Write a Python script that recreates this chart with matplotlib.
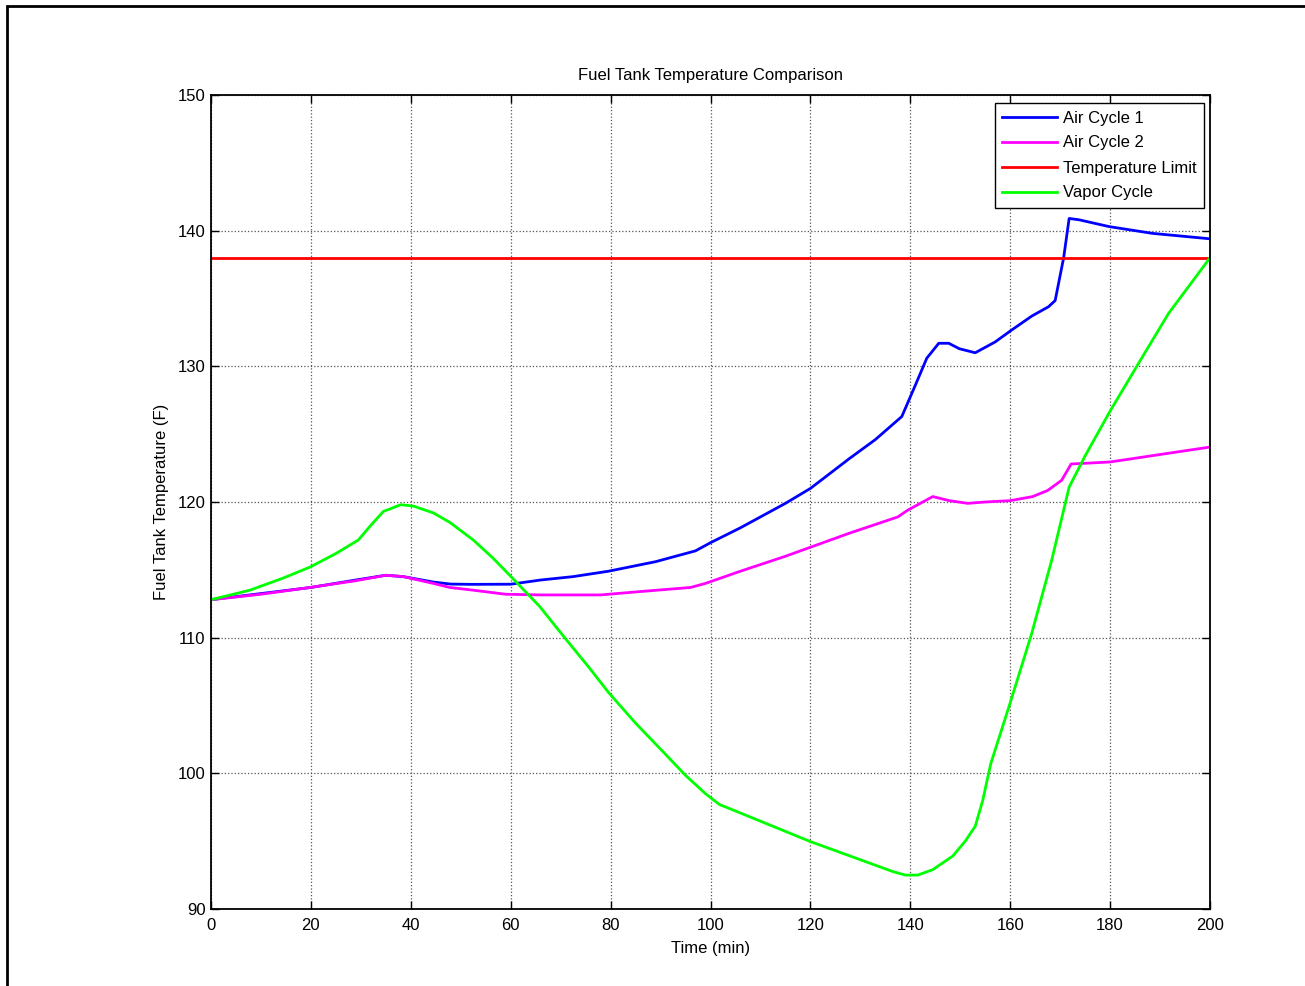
import numpy as np
import matplotlib
matplotlib.use('Agg')
import matplotlib.pyplot as plt
from matplotlib.patches import Rectangle

# values (time in min, temperature in F)
t_air1 = [0, 10, 20, 29, 35, 38.5, 44.5, 48, 52, 60, 66, 72.5, 79.6, 89, 97, 100,
          106, 115, 120, 127.8, 133, 138.3, 141, 143.3, 145.7, 147.7, 149.8, 153,
          157, 160, 164.3, 167.7, 169, 170.7, 171.8, 173.8, 179.8, 188.5, 200]
air1 = [112.8, 113.25, 113.7, 114.25, 114.6, 114.5, 114.1, 113.95, 113.93, 113.94,
        114.25, 114.5, 114.9, 115.6, 116.4, 117.0, 118.1, 119.9, 121.0, 123.2, 124.6,
        126.3, 128.6, 130.6, 131.7, 131.7, 131.3, 131.0, 131.8, 132.6, 133.7, 134.4,
        134.85, 138.0, 140.9, 140.8, 140.3, 139.8, 139.4]

t_air2 = [0, 10, 19.8, 29, 35, 38.5, 44.5, 47.8, 52.5, 59, 66, 78, 86, 96, 99, 106,
          115, 127.8, 137.5, 139.5, 144.5, 147.8, 151.5, 155, 160, 164.5, 167.5,
          170.3, 172.2, 180, 200]
air2 = [112.8, 113.2, 113.7, 114.2, 114.6, 114.5, 114.0, 113.7, 113.5, 113.2, 113.15,
        113.15, 113.4, 113.7, 114.0, 114.9, 116.0, 117.7, 118.9, 119.4, 120.4, 120.1,
        119.9, 120.0, 120.1, 120.4, 120.85, 121.6, 122.8, 122.95, 124.05]

t_limit = [0, 200]
limit = [138, 138]

t_vapor = [0, 7.8, 14.5, 19.8, 25, 29.5, 31.8, 34.5, 38, 40.5, 44.5, 47.8, 52.5,
           56.5, 59.8, 65.8, 70.8, 75.8, 79.5, 85, 91, 95, 99, 101.8, 104.5, 120,
           136.5, 139, 141.5, 144.5, 148.5, 151, 153, 154.5, 156.1, 160, 164.3, 168.3,
           171.8, 175, 180, 185.5, 191.7, 200]
vapor = [112.8, 113.5, 114.4, 115.2, 116.2, 117.2, 118.2, 119.3, 119.8, 119.7, 119.2,
         118.5, 117.2, 115.85, 114.6, 112.3, 110.0, 107.75, 106.0, 103.7, 101.4, 99.85,
         98.5, 97.7, 97.3, 94.97, 92.76, 92.5, 92.5, 92.9, 93.9, 95.0, 96.1, 98.0,
         100.7, 105.2, 110.3, 115.7, 121.1, 123.4, 126.7, 130.1, 133.9, 138.0]

plt.rcParams['font.family'] = ['Liberation Sans', 'DejaVu Sans']

W, H = 1305, 986
fig = plt.figure(figsize=(W/100, H/100), dpi=100)
ax = fig.add_axes([211/W, 1-909/H, 999/W, 814/H])

lw = 2.0
ax.plot(t_air1, air1, color='#0000ff', lw=lw, label='Air Cycle 1')
ax.plot(t_air2, air2, color='#ff00ff', lw=lw, label='Air Cycle 2')
ax.plot(t_limit, limit, color='#ff0000', lw=lw, label='Temperature Limit')
ax.plot(t_vapor, vapor, color='#00ff00', lw=lw, label='Vapor Cycle')

ax.set_xlim(0, 200); ax.set_ylim(90, 150)
ax.set_xticks(np.arange(0, 201, 20)); ax.set_yticks(np.arange(90, 151, 10))
ax.grid(True, ls=':', color='#555555', lw=0.9)
ax.tick_params(direction='in', top=True, right=True, length=6, width=1, labelsize=12)
ax.tick_params(axis='x', pad=6.5); ax.tick_params(axis='y', pad=4)
for s in ax.spines.values():
    s.set_linewidth(1.3)

ax.set_title('Fuel Tank Temperature Comparison', fontsize=12, pad=10.5)
ax.set_xlabel('Time (min)', fontsize=12, labelpad=6)
ax.set_ylabel('Fuel Tank Temperature (F)', fontsize=12, labelpad=6)

leg = ax.legend(loc='upper right', bbox_to_anchor=((1204-211)/999, (909-103)/814),
                borderaxespad=0, fontsize=12, fancybox=False, framealpha=1,
                handlelength=3.3, labelspacing=0.6, borderpad=0.45, handletextpad=0.35)
leg.get_frame().set_edgecolor('black'); leg.get_frame().set_linewidth(1.0)

# outer figure frame (only left and top edges visible in the crop)
fig.add_artist(Rectangle((7/W, -0.5), 1.5, 1.5 - 6/H, transform=fig.transFigure,
                         fill=False, edgecolor='black', lw=2))

fig.savefig('out.png', dpi=100)
